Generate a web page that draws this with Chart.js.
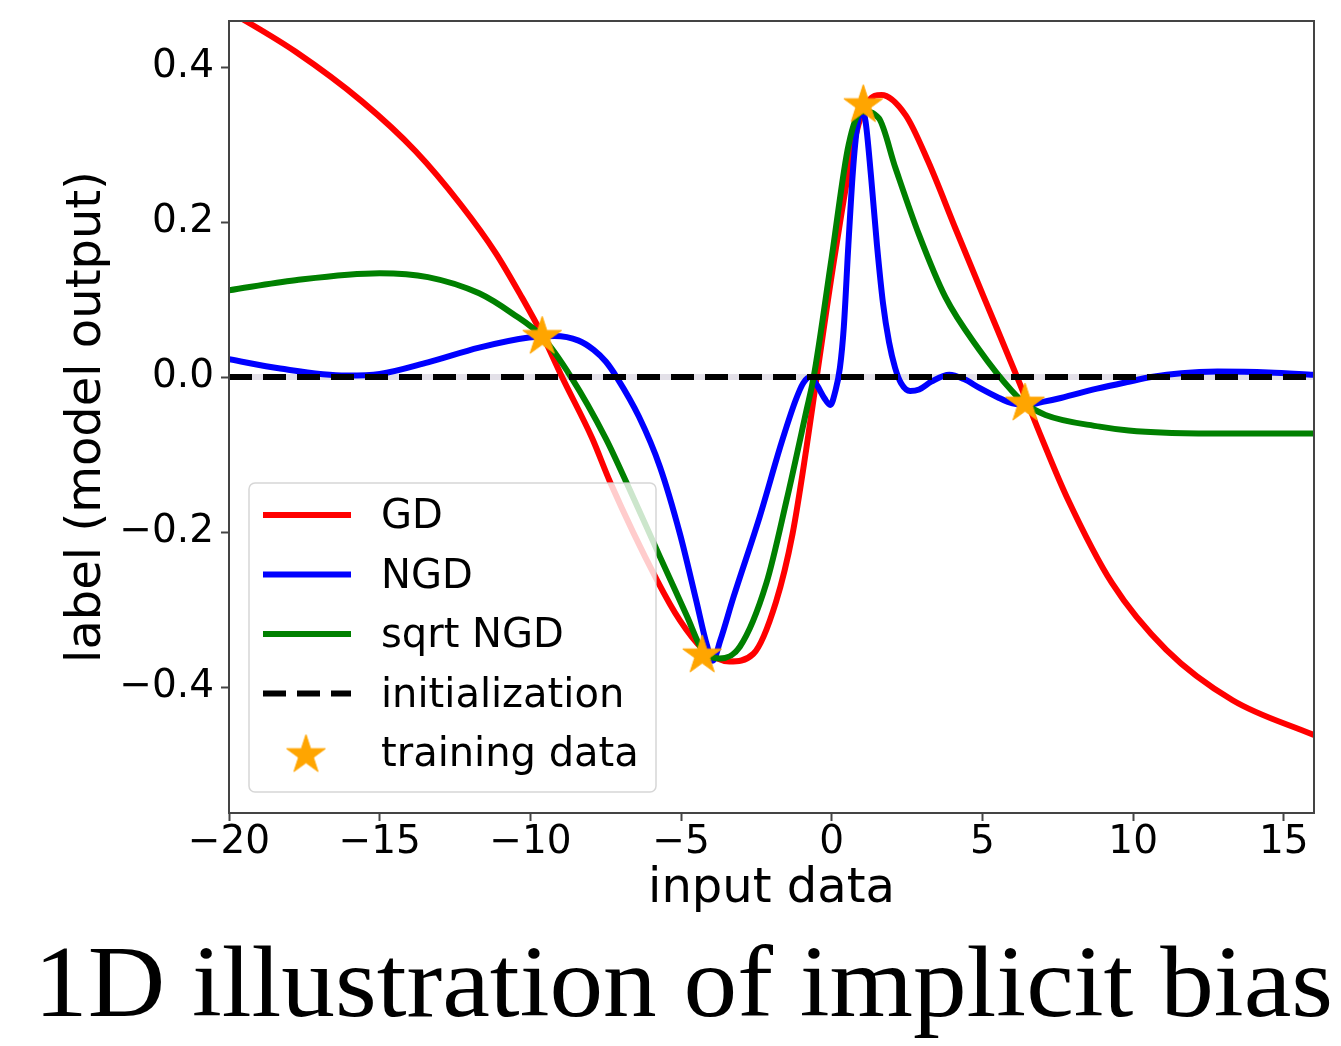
<!DOCTYPE html>
<html>
<head>
<meta charset="utf-8">
<script src="https://cdn.jsdelivr.net/npm/chart.js@4.4.1/dist/chart.umd.min.js"></script>
<style>
  html, body { margin: 0; padding: 0; background: #fff; }
  #wrap { position: relative; width: 1341px; height: 1046px; overflow: hidden; }
  #chart { position: absolute; left: 0; top: 0; }
  #title {
    position: absolute; left: 34px; top: 932px;
    display: inline-block; white-space: nowrap;
    font-family: "Liberation Serif", serif; font-size: 101px; line-height: 101px;
    color: #000; transform-origin: left top;
  }
</style>
</head>
<body>
<div id="wrap">
  <canvas id="chart" width="1341" height="930"></canvas>
  <div id="title">1D illustration of implicit bias</div>
</div>
<script>
// 坐标轴刻度
const xTicks = [-20, -15, -10, -5, 0, 5, 10, 15];
const yTicks = [-0.4, -0.2, 0.0, 0.2, 0.4];

// GD
const gdX = [-20, -19.6, -17.8, -15.6, -13.8, -12.3, -11.15, -10.3, -9.6, -8.95, -7.95, -7.36, -5.8, -5.04, -4.3, -3.4, -2.6, -1.85, -1.3, -0.85, -0.5, 0.12, 0.8, 1.2, 1.65, 2.45, 3.2, 4.1, 5.1, 6.15, 7.0, 7.8, 9.3, 11.1, 13.3, 16];
const gdY = [0.472, 0.463, 0.42, 0.356, 0.291, 0.222, 0.16, 0.104, 0.054, 0.0, -0.079, -0.135, -0.262, -0.314, -0.35, -0.367, -0.357, -0.29, -0.202, -0.094, 0.0, 0.162, 0.313, 0.355, 0.364, 0.338, 0.278, 0.192, 0.098, 0.0, -0.082, -0.155, -0.266, -0.352, -0.417, -0.462];

// NGD
const ngdX = [-20, -18.3, -16.1, -15.0, -13.4, -11.7, -10.05, -9.2, -8.4, -7.9, -7.5, -7.14, -6.4, -5.7, -5.04, -4.5, -4.15, -3.95, -3.7, -3.27, -2.39, -1.67, -1.2, -0.95, -0.72, -0.5, -0.25, -0.05, 0.12, 0.27, 0.4, 0.55, 0.7, 0.85, 1.0, 1.12, 1.3, 1.5, 1.7, 1.9, 2.1, 2.3, 2.6, 2.9, 3.3, 3.9, 4.4, 4.9, 5.5, 6.0, 6.42, 7.0, 7.6, 8.8, 9.85, 10.6, 11.6, 12.8, 14.5, 16];
const ngdY = [0.023, 0.011, 0.002, 0.004, 0.019, 0.038, 0.051, 0.053, 0.047, 0.035, 0.02, 0.0, -0.051, -0.116, -0.202, -0.288, -0.345, -0.366, -0.34, -0.285, -0.18, -0.085, -0.03, -0.008, 0.0, -0.01, -0.027, -0.036, -0.018, 0.012, 0.065, 0.17, 0.265, 0.325, 0.345, 0.33, 0.26, 0.17, 0.095, 0.045, 0.012, -0.008, -0.018, -0.016, -0.006, 0.003, -0.003, -0.014, -0.026, -0.034, -0.036, -0.032, -0.027, -0.015, -0.006, 0.0, 0.005, 0.007, 0.006, 0.003];

// sqrt NGD
const sqrtX = [-20, -17.8, -15.0, -13.4, -11.7, -10.6, -9.61, -8.65, -7.5, -6.8, -5.7, -4.8, -4.3, -3.72, -3.05, -2.17, -1.5, -0.84, -0.6, 0.0, 0.56, 1.0, 1.56, 2.11, 2.89, 3.77, 4.88, 5.98, 6.41, 7.09, 8.89, 9.85, 11.1, 13.0, 16];
const sqrtY = [0.112, 0.125, 0.134, 0.129, 0.108, 0.082, 0.052, 0.0, -0.079, -0.137, -0.232, -0.309, -0.352, -0.363, -0.348, -0.266, -0.159, -0.043, 0.0, 0.155, 0.3, 0.343, 0.334, 0.27, 0.184, 0.103, 0.036, -0.018, -0.034, -0.049, -0.064, -0.069, -0.072, -0.073, -0.073];

// 初始化 (y = 0)
const initX = [-20, 16];
const initY = [0, 0];

// 训练数据
const trainX = [-9.61, -4.3, 1.045, 6.41];
const trainY = [0.052, -0.359, 0.351, -0.034];

const FONT = 'DejaVu Sans';
const AXIS_COLOR = '#444';

const toPoints = (xs, ys) => xs.map((x, i) => ({ x: x, y: ys[i] }));
const minus = (s) => s.replace('-', '\u2212');

// 星形标记
const makeStar = (r, color) => {
    const size = Math.ceil(r * 2 + 4);
    const c = document.createElement('canvas');
    c.width = size; c.height = size;
    const g = c.getContext('2d');
    g.translate(size / 2, size / 2);
    g.beginPath();
    for (let i = 0; i < 10; i++) {
        const rad = i % 2 === 0 ? r : r * 0.381966;
        const a = -Math.PI / 2 + i * Math.PI / 5;
        const px = rad * Math.cos(a), py = rad * Math.sin(a);
        if (i === 0) g.moveTo(px, py); else g.lineTo(px, py);
    }
    g.closePath();
    g.fillStyle = color;
    g.fill();
    g.lineWidth = 1;
    g.strokeStyle = color;
    g.stroke();
    return c;
};
const starImg = makeStar(20.5, '#FFA500');

const lineDs = (label, xs, ys, color, order) => ({
    label: label,
    data: toPoints(xs, ys),
    borderColor: color,
    backgroundColor: color,
    borderWidth: 6,
    pointRadius: 0,
    cubicInterpolationMode: 'monotone',
    borderJoinStyle: 'round',
    fill: false,
    clip: 0,
    order: order
});

// 边框 + 图例
const framePlugin = {
    id: 'frameLegend',
    afterDatasetsDraw(chart) {
        const { ctx, chartArea: ca } = chart;
        ctx.save();
        ctx.strokeStyle = AXIS_COLOR;
        ctx.lineWidth = 2;
        ctx.strokeRect(ca.left, ca.top, ca.right - ca.left, ca.bottom - ca.top);

        // 图例框
        const bx = ca.left + 20, by = 483, bw = 407, bh = 309, r = 6;
        ctx.beginPath();
        ctx.roundRect(bx, by, bw, bh, r);
        ctx.fillStyle = 'rgba(255,255,255,0.8)';
        ctx.fill();
        ctx.strokeStyle = 'rgba(204,204,204,0.8)';
        ctx.lineWidth = 1.5;
        ctx.stroke();

        const rowH = 59.5;
        let row = 0;
        ctx.font = '40px "' + FONT + '"';
        ctx.textBaseline = 'middle';
        ctx.textAlign = 'left';
        chart.data.datasets.forEach(ds => {
            if (!ds.label) return;
            const cy = 515 + row * rowH;
            if (ds.showLine === false) {
                ctx.drawImage(starImg, 306 - starImg.width / 2, cy + 2 - starImg.height / 2);
            } else {
                ctx.beginPath();
                ctx.setLineDash(ds.borderDash || []);
                ctx.lineDashOffset = 0;
                ctx.strokeStyle = ds.borderColor;
                ctx.lineWidth = ds.borderWidth;
                ctx.moveTo(263, cy);
                ctx.lineTo(351, cy);
                ctx.stroke();
                ctx.setLineDash([]);
            }
            ctx.fillStyle = '#000';
            ctx.fillText(ds.label, 381, cy + 3);
            row++;
        });
        ctx.restore();
    }
};

const chart = new Chart(document.getElementById('chart'), {
    type: 'line',
    data: {
        datasets: [
            lineDs('GD', gdX, gdY, '#ff0000', 5),
            lineDs('NGD', ngdX, ngdY, '#0000ff', 4),
            lineDs('sqrt NGD', sqrtX, sqrtY, '#008000', 3),
            {
                ...lineDs('initialization', initX, initY, '#000000', 1),
                cubicInterpolationMode: 'default',
                tension: 0,
                borderDash: [23, 11]
            },
            {
                label: 'training data',
                data: toPoints(trainX, trainY),
                showLine: false,
                pointStyle: starImg,
                pointRadius: 20,
                clip: false,
                order: 0
            },
            {
                label: '',
                data: toPoints(initX, initY),
                borderColor: '#e3e0e8',
                borderWidth: 6,
                pointRadius: 0,
                tension: 0,
                clip: 0,
                order: 6
            }
        ]
    },
    options: {
        responsive: false,
        animation: false,
        layout: { padding: { left: 0, top: 19, right: 27, bottom: 0 } },
        plugins: {
            legend: { display: false },
            tooltip: { enabled: false }
        },
        scales: {
            x: {
                type: 'linear',
                position: 'bottom',
                min: -20,
                max: 16,
                afterBuildTicks: s => { s.ticks = xTicks.map(v => ({ value: v })); },
                afterFit: s => { s.height = 117; s.paddingLeft = 0; s.paddingRight = 0; },
                ticks: {
                    font: { family: FONT, size: 39 },
                    color: '#000',
                    padding: -2,
                    maxRotation: 0,
                    autoSkip: false,
                    callback: v => minus(String(v))
                },
                grid: { drawOnChartArea: false, drawTicks: true, tickLength: 8, tickWidth: 2, tickColor: AXIS_COLOR },
                border: { display: false },
                title: {
                    display: true,
                    text: 'input data',
                    color: '#000',
                    font: { family: FONT, size: 48 },
                    padding: { top: 0, bottom: 12 }
                }
            },
            y: {
                type: 'linear',
                position: 'left',
                min: -0.5625,
                max: 0.4594,
                afterBuildTicks: s => { s.ticks = yTicks.map(v => ({ value: v })); },
                afterFit: s => { s.width = 229; s.paddingTop = 0; s.paddingBottom = 0; },
                ticks: {
                    font: { family: FONT, size: 39 },
                    color: '#000',
                    padding: 7,
                    autoSkip: false,
                    callback: v => minus(v.toFixed(1))
                },
                grid: { drawOnChartArea: false, drawTicks: true, tickLength: 8, tickWidth: 2, tickColor: AXIS_COLOR },
                border: { display: false },
                title: {
                    display: true,
                    text: 'label (model output)',
                    color: '#000',
                    font: { family: FONT, size: 48 },
                    padding: { top: 59, bottom: 0 }
                }
            }
        }
    },
    plugins: [framePlugin]
});

// 标题宽度对齐
const titleEl = document.getElementById('title');
const tw = titleEl.getBoundingClientRect().width;
titleEl.style.transform = 'scaleX(' + (1299 / tw) + ')';
</script>
</body>
</html>
